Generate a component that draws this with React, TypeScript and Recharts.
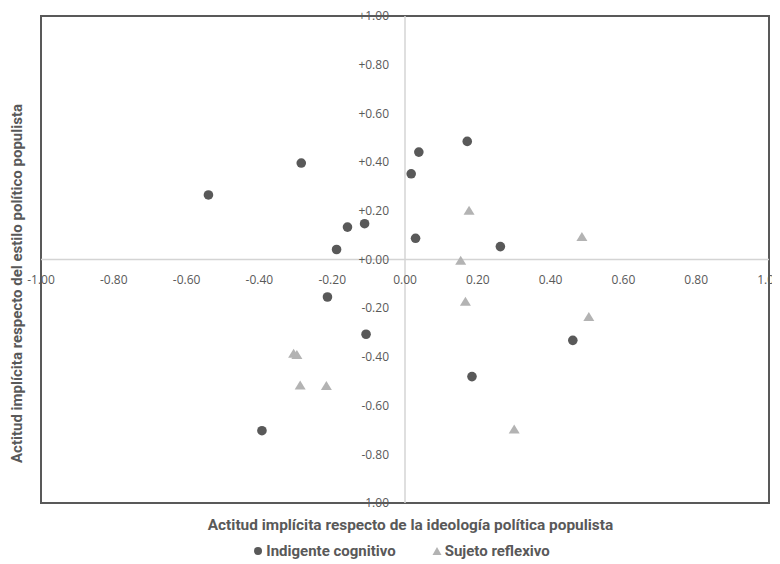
import {
  ScatterChart,
  Scatter,
  XAxis,
  YAxis,
  ReferenceLine,
  ReferenceArea,
  Legend,
  Label,
} from "recharts";

const indigenteX = [-0.54, -0.285, -0.158, -0.111, -0.188, 0.171, 0.038, 0.017, 0.029, 0.262, -0.213, -0.107, -0.393, 0.461, 0.184];
const indigenteY = [0.265, 0.396, 0.133, 0.147, 0.041, 0.485, 0.441, 0.352, 0.087, 0.053, -0.154, -0.307, -0.703, -0.332, -0.481];
const reflexivoX = [0.176, 0.486, 0.153, -0.306, -0.297, -0.288, -0.216, 0.166, 0.505, 0.3];
const reflexivoY = [0.2, 0.092, -0.005, -0.387, -0.392, -0.517, -0.52, -0.173, -0.236, -0.698];
const axisTicks = [-1, -0.8, -0.6, -0.4, -0.2, 0, 0.2, 0.4, 0.6, 0.8, 1];

const xTitle = "Actitud implícita respecto de la ideología política populista";
const yTitle = "Actitud implícita respecto del estilo político populista";

const indigente = indigenteX.map((x, i) => ({ x, y: indigenteY[i] }));
const reflexivo = reflexivoX.map((x, i) => ({ x, y: reflexivoY[i] }));

const W = 772;
const H = 556;
const X_AXIS_H = 30;
const Y_AXIS_W = 33;
const margin = { top: 8, right: 11, bottom: 31, left: 0 };
const plotLeft = margin.left + Y_AXIS_W;
const plotBottom = H - margin.bottom - X_AXIS_H;
const zeroX = plotLeft + (W - plotLeft - margin.right) / 2;
const zeroY = margin.top + (plotBottom - margin.top) / 2;

const DARK = "#595959";
const LIGHT = "#b3b3b3";
const tickFont = "'Open Sans', sans-serif";
const titleFont = "'Liberation Sans Narrow', 'Roboto', sans-serif";

const XTick = (props: any) => (
  <text x={props.x} y={zeroY + 20} dy="0.35em" textAnchor="middle" fill={DARK} fontSize={12} fontFamily={tickFont}>
    {Number(props.payload.value).toFixed(2)}
  </text>
);

const YTick = (props: any) => {
  const v = Number(props.payload.value);
  return (
    <text x={zeroX - 16} y={props.y} dy="0.35em" textAnchor="end" fill={DARK} fontSize={12} fontFamily={tickFont}>
      {v >= 0 ? "+" + v.toFixed(2) : v.toFixed(2)}
    </text>
  );
};

const Dot = ({ cx, cy }: any) => <circle cx={cx} cy={cy} r={4.8} fill={DARK} />;
const Tri = ({ cx, cy }: any) => (
  <polygon points={`${cx},${cy - 5} ${cx + 5.5},${cy + 4} ${cx - 5.5},${cy + 4}`} fill={LIGHT} />
);

const XTitle = () => (
  <text x={402.5} y={517} dy="0.35em" textAnchor="middle" fill={DARK} fontSize={15.4} fontWeight="bold" fontFamily={titleFont}>
    {xTitle}
  </text>
);

const YTitle = () => (
  <text
    x={9}
    y={275.5}
    dy="0.35em"
    transform="rotate(-90 9 275.5)"
    textAnchor="middle"
    fill={DARK}
    fontSize={15}
    fontWeight="bold"
    fontFamily={titleFont}
  >
    {yTitle}
  </text>
);

const LegendContent = ({ payload }: any) => (
  <div
    style={{
      display: "flex",
      justifyContent: "center",
      gap: 36,
      paddingLeft: 15,
      fontFamily: titleFont,
      fontWeight: "bold",
      fontSize: 15,
      color: DARK,
    }}
  >
    {(payload || []).map((p: any) => (
      <span key={p.value} style={{ display: "flex", alignItems: "center", gap: 3 }}>
        <svg width={10} height={10}>
          {p.value === "Indigente cognitivo" ? (
            <circle cx={5} cy={5} r={4} fill={DARK} />
          ) : (
            <polygon points="5,1 9.5,9 0.5,9" fill={LIGHT} />
          )}
        </svg>
        {p.value}
      </span>
    ))}
  </div>
);

export default function App() {
  return (
    <ScatterChart width={W} height={H} margin={margin}>
      <XAxis
        type="number"
        dataKey="x"
        domain={[-1, 1]}
        ticks={axisTicks}
        height={X_AXIS_H}
        axisLine={false}
        tickLine={false}
        tick={XTick}
        interval={0}
      >
        <Label content={XTitle} />
      </XAxis>
      <YAxis
        type="number"
        dataKey="y"
        domain={[-1, 1]}
        ticks={axisTicks}
        width={Y_AXIS_W}
        axisLine={false}
        tickLine={false}
        tick={YTick}
        interval={0}
      >
        <Label content={YTitle} />
      </YAxis>
      <ReferenceLine x={0} stroke="#d4d4d4" strokeWidth={1.5} />
      <ReferenceLine y={0} stroke="#d4d4d4" strokeWidth={1.5} />
      <ReferenceArea x1={-1} x2={1} y1={-1} y2={1} fill="none" stroke={DARK} strokeWidth={2} />
      <Legend
        verticalAlign="middle"
        align="center"
        content={<LegendContent />}
        wrapperStyle={{ top: 534, left: 0, width: W }}
      />
      <Scatter name="Indigente cognitivo" data={indigente} shape={<Dot />} fill={DARK} isAnimationActive={false} />
      <Scatter name="Sujeto reflexivo" data={reflexivo} shape={<Tri />} fill={LIGHT} isAnimationActive={false} />
    </ScatterChart>
  );
}
